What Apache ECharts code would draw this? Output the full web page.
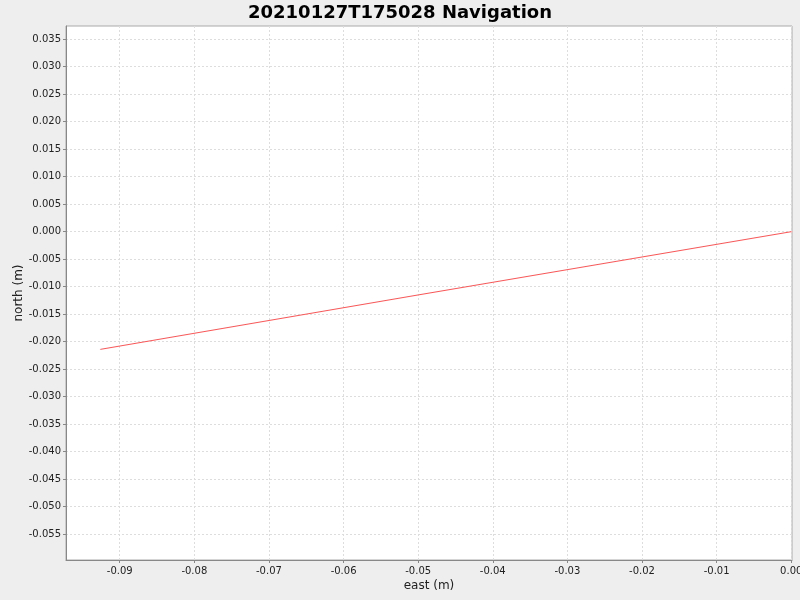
<!DOCTYPE html>
<html>
<head>
<meta charset="utf-8">
<script src="https://cdn.jsdelivr.net/npm/echarts@6/dist/echarts.min.js"></script>
<style>
  html, body { margin: 0; padding: 0; background: #eeeeee; }
  #chart { width: 800px; height: 600px; }
</style>
</head>
<body>
<div id="chart"></div>
<script>
// track points
const eastVals = [-0.0926, -0.05, 0.0];
const northVals = [-0.0214, -0.0115, 0.0];

// axis ticks
const eastTicks = [-0.09, -0.08, -0.07, -0.06, -0.05, -0.04, -0.03, -0.02, -0.01, 0.0];
const northTicks = [0.035, 0.03, 0.025, 0.02, 0.015, 0.01, 0.005, 0.0, -0.005, -0.01,
  -0.015, -0.02, -0.025, -0.03, -0.035, -0.04, -0.045, -0.05, -0.055];

const font = "DejaVu Sans, sans-serif";
const chart = echarts.init(document.getElementById("chart"));

const points = eastVals.map((e, i) => [e, northVals[i]]);

chart.setOption({
  backgroundColor: "#eeeeee",
  animation: false,
  title: {
    text: "20210127T175028 Navigation",
    left: "center",
    top: -1,
    textStyle: { fontFamily: font, fontSize: 18, fontWeight: "bold", color: "#000" }
  },
  grid: {
    left: 66, right: 8, top: 26, bottom: 40,
    outerBoundsMode: "none",
    containLabel: false,
    show: true, backgroundColor: "#fff", borderColor: "#aaaaaa", borderWidth: 1
  },
  xAxis: {
    type: "value",
    min: -0.0972,
    max: 0.0001,
    name: "east (m)",
    nameLocation: "middle",
    nameGap: 20,
    nameMoveOverlap: false,
    nameTextStyle: { fontFamily: font, fontSize: 12, color: "#222" },
    axisLine: { show: true, onZero: false, lineStyle: { color: "#888", width: 1 } },
    axisTick: { show: true, length: 3, lineStyle: { color: "#888" }, customValues: eastTicks },
    axisLabel: {
      fontFamily: font, fontSize: 10, color: "#222", margin: 6,
      customValues: eastTicks,
      formatter: v => v.toFixed(2)
    },
    splitLine: { show: true, lineStyle: { color: "#dddddd", type: [2, 2] } }
  },
  yAxis: {
    type: "value",
    min: -0.0597,
    max: 0.0374,
    name: "north (m)",
    nameLocation: "middle",
    nameGap: 41,
    nameMoveOverlap: false,
    nameTextStyle: { fontFamily: font, fontSize: 12, color: "#222" },
    axisLine: { show: true, onZero: false, lineStyle: { color: "#888", width: 1 } },
    axisTick: { show: true, length: 3, lineStyle: { color: "#888" }, customValues: northTicks },
    axisLabel: {
      fontFamily: font, fontSize: 10, color: "#222", margin: 5,
      customValues: northTicks,
      formatter: v => v.toFixed(3)
    },
    splitLine: { show: true, lineStyle: { color: "#dddddd", type: [2, 2] } }
  },
  series: [{
    type: "line",
    data: points,
    showSymbol: false,
    lineStyle: { color: "#ff5555", width: 1 }
  }]
});
</script>
</body>
</html>
